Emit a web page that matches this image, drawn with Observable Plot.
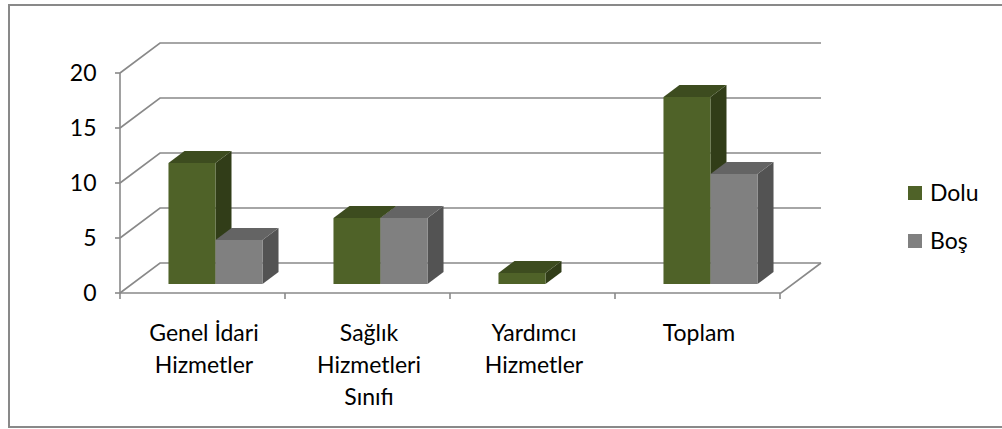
<!DOCTYPE html>
<html>
<head>
<meta charset="utf-8">
<script src="https://cdn.jsdelivr.net/npm/d3@7"></script>
<script src="https://cdn.jsdelivr.net/npm/@observablehq/plot@0.6"></script>
<style>
  body { margin: 0; background: #fff; }
  #chart { position: relative; width: 1002px; height: 429px; overflow: hidden; }
</style>
</head>
<body>
<div id="chart"></div>
<script>
// ---- data ----
const categories = ["Genel İdari\nHizmetler", "Sağlık\nHizmetleri\nSınıfı", "Yardımcı\nHizmetler", "Toplam"];
const seriesNames = ["Dolu", "Boş"];
const doluValues = [11, 6, 1, 17];
const bosValues = [4, 6, 0, 10];
const yTicks = [0, 5, 10, 15, 20];
const seriesColors = {
  "Dolu": {front: "#4F6228", top: "#3D4C1F", side: "#313D18"},
  "Boş": {front: "#808080", top: "#646464", side: "#535353"}
};

const rows = categories.flatMap((c, i) => [
  {cat: c, series: "Dolu", value: doluValues[i]},
  {cat: c, series: "Boş", value: bosValues[i]}
]);

// depth of the 3D box (floor / back wall offset)
const DX = 40, DY = -30;
const GRID = "#898989";
const FONT = 23;

function scene(index, scales, values, dims) {
  const x = scales.x, y = scales.y;
  const [xl, xr] = x.range();
  const bw = x.bandwidth ? x.bandwidth() : (xr - xl) / categories.length;
  const g = d3.create("svg:g");
  const line = (pts) => g.append("path")
    .attr("d", "M" + pts.map(p => p.join(",")).join("L"))
    .attr("fill", "none").attr("stroke", GRID).attr("stroke-width", 1.6);

  // walls / gridlines
  for (const t of yTicks) {
    const yy = y(t);
    line([[xl, yy], [xl + DX, yy + DY], [xr + DX, yy + DY]]);
    line([[xl - 5, yy], [xl, yy]]);
  }
  // left axis line
  line([[xl, y(yTicks[0])], [xl, y(yTicks[yTicks.length - 1])]]);
  // floor front and right edge
  const y0 = y(0);
  line([[xl, y0], [xr, y0], [xr + DX, y0 + DY]]);
  // category ticks at band boundaries
  for (let i = 0; i <= categories.length; i++) {
    const xx = xl + i * bw;
    line([[xx, y0], [xx, y0 + 6]]);
  }

  // 3D bars
  const w = bw * 0.285;
  const ox = DX * 0.3, oy = DY * 0.3, tx = DX * 0.4, ty = DY * 0.4;
  for (const c of categories) {
    const cx = x(c) + bw / 2;
    for (const s of seriesNames) {
      const d = rows.find(r => r.cat === c && r.series === s);
      if (!d || d.value <= 0) continue;
      const col = seriesColors[s];
      const x0 = (s === "Dolu" ? cx - w : cx) + ox;
      const x1 = x0 + w;
      const yt = y(d.value) + oy, yb = y(0) + oy;
      const poly = (pts, fill) => g.append("polygon")
        .attr("points", pts.map(p => p.join(",")).join(" "))
        .attr("fill", fill);
      poly([[x1, yt], [x1 + tx, yt + ty], [x1 + tx, yb + ty], [x1, yb]], col.side);
      poly([[x0, yt], [x1, yt], [x1 + tx, yt + ty], [x0 + tx, yt + ty]], col.top);
      poly([[x0, yt], [x1, yt], [x1, yb], [x0, yb]], col.front);
    }
  }

  // legend
  const lx = xr + 127;
  seriesNames.forEach((s, i) => {
    const ly = 193 + i * 48;
    g.append("rect").attr("x", lx).attr("y", ly - 7).attr("width", 14).attr("height", 14)
      .attr("fill", seriesColors[s].front);
    g.append("text").attr("x", lx + 22).attr("y", ly).attr("dy", "0.35em")
      .attr("text-anchor", "start")
      .attr("font-size", FONT).attr("fill", "#000").text(s);
  });

  // outer frame
  g.append("rect").attr("x", 9).attr("y", 5).attr("width", 1010).attr("height", 422)
    .attr("fill", "none").attr("stroke", GRID).attr("stroke-width", 2);
  return g.node();
}

const chart = Plot.plot({
  width: 1002,
  height: 429,
  marginLeft: 120,
  marginRight: 221,
  marginTop: 73,
  marginBottom: 136,
  style: {fontFamily: "Lato, 'Open Sans', sans-serif", fontSize: FONT + "px", color: "#000", background: "#fff"},
  x: {type: "band", domain: categories, padding: 0},
  y: {domain: [0, 20]},
  marks: [
    scene,
    Plot.axisY(yTicks, {tickSize: 0, tickPadding: 24, fontSize: FONT, fill: "#000"}),
    Plot.axisX({tickSize: 0, tickPadding: 25, fontSize: FONT, lineHeight: 1.38, fill: "#000"})
  ]
});
document.getElementById("chart").appendChild(chart);
</script>
</body>
</html>
